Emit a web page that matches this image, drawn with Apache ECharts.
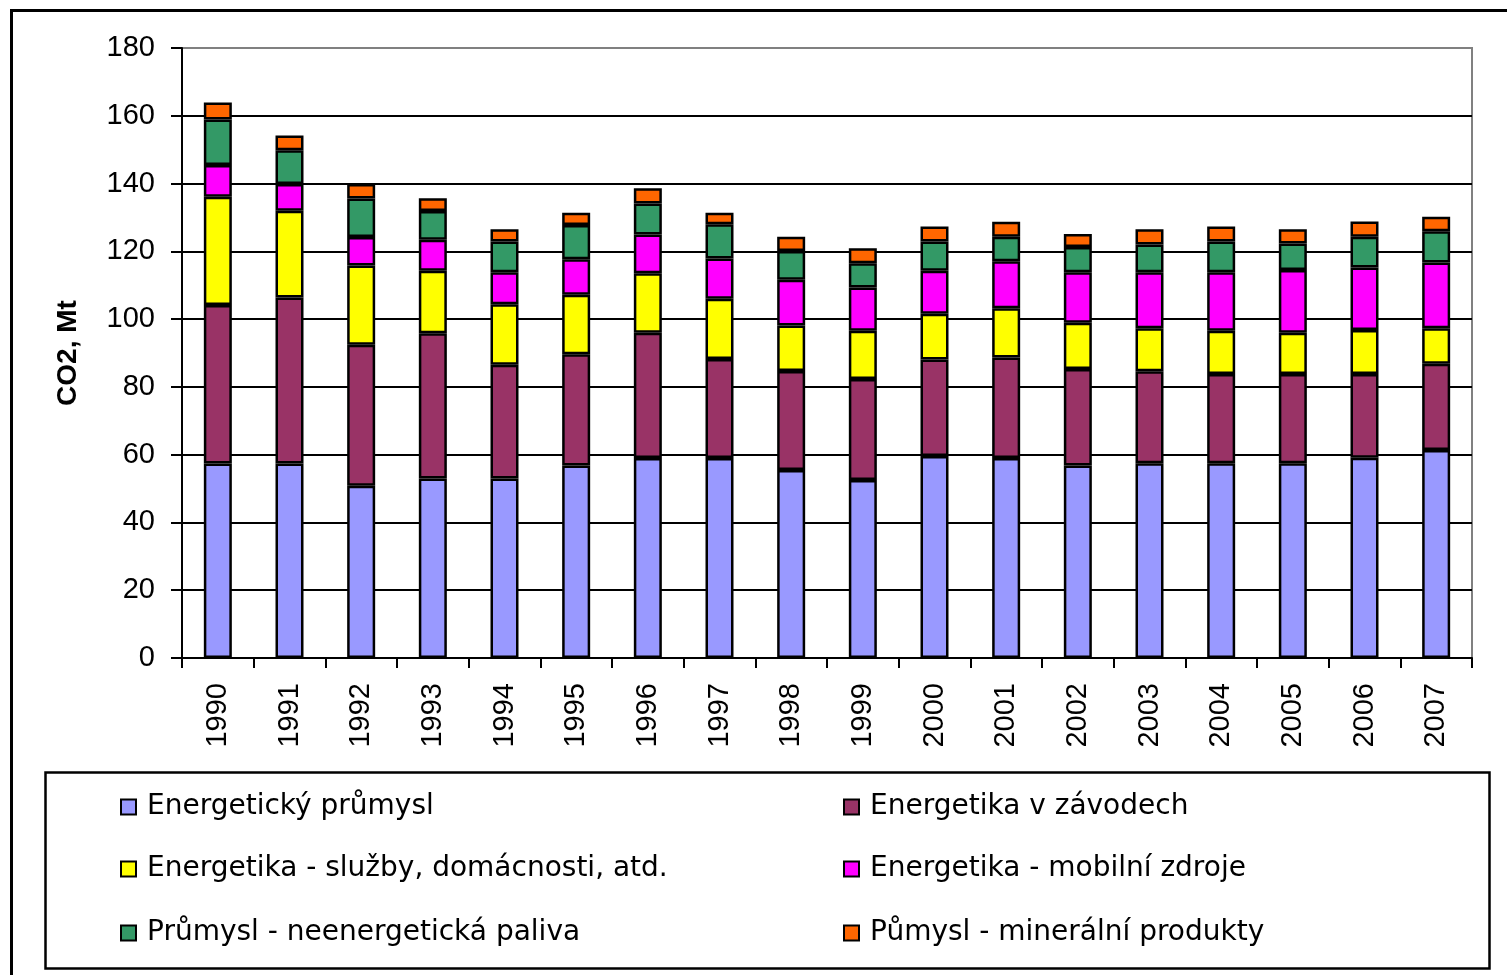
<!DOCTYPE html>
<html>
<head>
<meta charset="utf-8">
<script src="https://cdn.jsdelivr.net/npm/echarts@6/dist/echarts.min.js"></script>
<style>
html,body{margin:0;padding:0;background:#fff;}
#chart{width:1507px;height:975px;}
</style>
</head>
<body>
<div id="chart"></div>
<script>
const years = ['1990','1991','1992','1993','1994','1995','1996','1997','1998','1999','2000','2001','2002','2003','2004','2005','2006','2007'];
const seriesNames = ['Energetický průmysl','Energetika v závodech','Energetika - služby, domácnosti, atd.','Energetika - mobilní zdroje','Průmysl - neenergetická paliva','Půmysl - minerální produkty'];
const energetickyPrumysl = [57.4, 57.4, 50.8, 53.0, 53.0, 56.8, 59.0, 59.0, 55.5, 52.5, 59.6, 59.0, 56.8, 57.5, 57.5, 57.5, 59.1, 61.4];
const energetikaZavody   = [46.8, 49.0, 41.6, 42.8, 33.5, 32.8, 37.0, 29.2, 29.2, 29.8, 28.5, 29.7, 28.5, 27.1, 26.3, 26.3, 24.7, 25.4];
const energetikaSluzby   = [31.9, 25.6, 23.4, 18.5, 17.9, 17.6, 17.5, 17.8, 13.4, 14.3, 13.5, 14.5, 13.6, 12.7, 12.8, 12.2, 13.0, 10.5];
const energetikaMobilni  = [9.4, 7.9, 8.4, 9.1, 9.4, 10.5, 11.5, 11.9, 13.5, 12.7, 12.7, 13.9, 14.9, 16.5, 17.2, 18.5, 18.4, 19.4];
const prumyslPaliva      = [13.4, 9.9, 11.4, 8.5, 9.1, 10.1, 9.1, 10.1, 8.5, 7.2, 8.6, 7.2, 7.5, 8.2, 9.1, 7.8, 9.1, 9.2];
const prumyslMineralni   = [5.0, 4.4, 4.3, 3.8, 3.6, 3.6, 4.5, 3.4, 4.2, 4.4, 4.4, 4.4, 3.8, 4.5, 4.4, 4.2, 4.5, 4.3];
const yTicks = ['0','20','40','60','80','100','120','140','160','180'];

const colors = ['#9999FF','#993366','#FFFF00','#FF00FF','#339966','#FF6600'];
const dataSets = [energetickyPrumysl, energetikaZavody, energetikaSluzby, energetikaMobilni, prumyslPaliva, prumyslMineralni];

const axisFont = '"Liberation Sans", Arial, sans-serif';
const legendFont = '"DejaVu Sans", "Liberation Sans", sans-serif';

const series = seriesNames.map((n, i) => ({
  name: n,
  type: 'bar',
  stack: 'total',
  barWidth: 28,
  data: dataSets[i],
  itemStyle: { color: colors[i], borderColor: '#000', borderWidth: 2.5 },
  emphasis: { disabled: true }
}));

const legendPos = [
  {left: 120, cy: 804}, {left: 843, cy: 804},
  {left: 120, cy: 866}, {left: 843, cy: 866},
  {left: 120, cy: 930}, {left: 843, cy: 930}
];
const legends = seriesNames.map((n, i) => ({
  data: [n],
  left: legendPos[i].left,
  top: legendPos[i].cy - 11,
  padding: 0,
  itemWidth: 15,
  itemHeight: 15,
  icon: 'rect',
  selectedMode: false,
  textStyle: { fontFamily: legendFont, fontSize: 28, color: '#000', padding: [0, 0, 0, 6] }
}));

const splitColors = yTicks.map((t, i) => i === yTicks.length - 1 ? '#808080' : '#000');

const chart = echarts.init(document.getElementById('chart'), null, {renderer: 'canvas'});
chart.setOption({
  animation: false,
  backgroundColor: '#fff',
  graphic: [
    { type: 'rect', left: 9, top: 8, shape: { x: 0, y: 0, width: 1520, height: 990 }, style: { fill: 'none', stroke: '#000', lineWidth: 3 }, silent: true },
    { type: 'rect', left: 43, top: 770, shape: { x: 0, y: 0, width: 1444, height: 196 }, style: { fill: 'none', stroke: '#000', lineWidth: 2.5 }, silent: true }
  ],
  grid: { left: 182, top: 48, width: 1290, height: 610, show: true, borderColor: '#808080', borderWidth: 2, backgroundColor: 'transparent' },
  legend: legends,
  xAxis: {
    type: 'category',
    data: years,
    boundaryGap: true,
    axisLine: { show: true, lineStyle: { color: '#000', width: 2 } },
    axisTick: { show: true, inside: false, length: 10, alignWithLabel: false, lineStyle: { color: '#000', width: 2 } },
    axisLabel: { rotate: 90, margin: 25, fontFamily: axisFont, fontSize: 29, color: '#000', interval: 0 },
    splitLine: { show: false }
  },
  yAxis: {
    type: 'value',
    min: 0, max: 180, interval: 20,
    name: 'CO2, Mt',
    nameLocation: 'middle',
    nameRotate: 90,
    nameGap: 100,
    nameTextStyle: { fontFamily: axisFont, fontSize: 28, fontWeight: 'bold', color: '#000' },
    axisLine: { show: true, lineStyle: { color: '#000', width: 2 } },
    axisTick: { show: true, inside: false, length: 11, lineStyle: { color: '#000', width: 2 } },
    axisLabel: { margin: 27, fontFamily: axisFont, fontSize: 29, color: '#000',
      formatter: (v) => yTicks[Math.round(v / 20)] },
    splitLine: { show: true, lineStyle: { color: splitColors, width: 2 } }
  },
  series: series
});
</script>
</body>
</html>
